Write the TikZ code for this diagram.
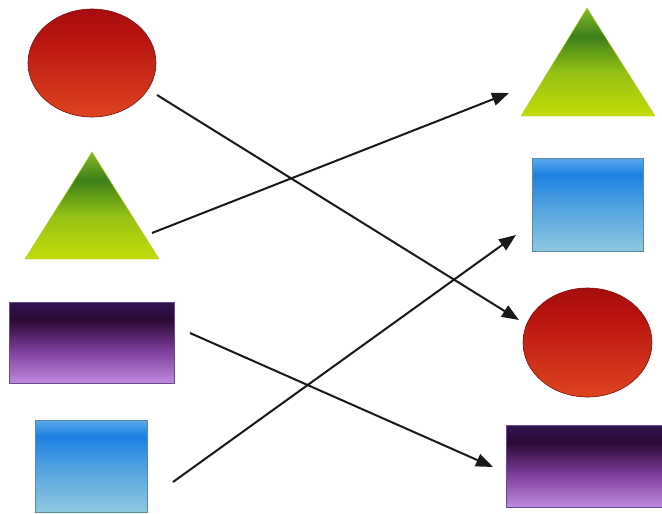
\documentclass[tikz,border=0pt]{standalone}
\usetikzlibrary{arrows.meta,shapes.geometric}
\definecolor{redT}{HTML}{A50D0D}
\definecolor{redM}{HTML}{B81410}
\definecolor{redB}{HTML}{DE4420}
\definecolor{redE}{HTML}{7E1010}
\definecolor{grA}{HTML}{82BC26}
\definecolor{grD}{HTML}{3C801A}
\definecolor{grM}{HTML}{96C214}
\definecolor{grB}{HTML}{C2DC08}
\definecolor{grE}{HTML}{B2CC10}
\definecolor{puT}{HTML}{2E1450}
\definecolor{puD}{HTML}{2A0A33}
\definecolor{puM}{HTML}{7C3E9C}
\definecolor{puB}{HTML}{BE8ADE}
\definecolor{puE}{HTML}{6A4A8A}
\definecolor{blT}{HTML}{5AAAEC}
\definecolor{blD}{HTML}{1E80E2}
\definecolor{blM}{HTML}{4EA0E0}
\definecolor{blB}{HTML}{8EC8E0}
\definecolor{blE}{HTML}{5A8AA0}
\pgfdeclareverticalshading{redsh}{100bp}{color(0bp)=(redB); color(25bp)=(redB); color(62bp)=(redM); color(75bp)=(redT); color(100bp)=(redT)}
\pgfdeclareverticalshading{greensh}{100bp}{color(0bp)=(grB); color(25bp)=(grB); color(45bp)=(grM); color(62bp)=(grD); color(75bp)=(grA); color(100bp)=(grA)}
\pgfdeclareverticalshading{purpsh}{100bp}{color(0bp)=(puB); color(25bp)=(puB); color(45bp)=(puM); color(64bp)=(puD); color(75bp)=(puT); color(100bp)=(puT)}
\pgfdeclareverticalshading{bluesh}{100bp}{color(0bp)=(blB); color(25bp)=(blB); color(50bp)=(blM); color(66bp)=(blD); color(75bp)=(blT); color(100bp)=(blT)}
\tikzset{
  redell/.style={ellipse, shading=redsh, draw=redE, line width=0.6pt, inner sep=0pt},
  greentri/.style={shading=greensh, draw=grE, line width=0.4pt},
  purpbox/.style={rectangle, shading=purpsh, draw=puE, line width=0.6pt, inner sep=0pt},
  bluebox/.style={rectangle, shading=bluesh, draw=blE, line width=0.6pt, inner sep=0pt},
  arr/.style={line width=2pt, black!90, -{Triangle[length=17pt,width=13pt]}}
}
\begin{document}
\begin{tikzpicture}[x=1pt,y=1pt]
\useasboundingbox (0,0) rectangle (662,-514);
\fill[white] (0,0) rectangle (662,-514);
% left column
\node[redell, minimum width=128pt, minimum height=108pt] (Lred) at (92,-63) {};
\coordinate (LtA) at (92,-152);
\coordinate (LtL) at (25,-259);
\coordinate (LtR) at (159,-259);
\path[greentri] (LtA) -- (LtR) -- (LtL) -- cycle;
\node[purpbox, minimum width=165pt, minimum height=81pt] (Lpurp) at (91.5,-342.5) {};
\node[bluebox, minimum width=112pt, minimum height=92pt] (Lblue) at (91,-466) {};
% right column
\coordinate (RtA) at (587,-8);
\coordinate (RtL) at (521,-116);
\coordinate (RtR) at (655,-116);
\path[greentri] (RtA) -- (RtR) -- (RtL) -- cycle;
\node[bluebox, minimum width=111pt, minimum height=93pt] (Rblue) at (587.5,-204.5) {};
\node[redell, minimum width=129pt, minimum height=109pt] (Rred) at (587.5,-342.5) {};
\node[purpbox, minimum width=158pt, minimum height=82pt] (Rpurp) at (585,-466) {};
% arrow ends
\coordinate (a1s) at (157,-95);
\coordinate (a1e) at (519,-320);
\coordinate (a2s) at (152,-233);
\coordinate (a2e) at (509,-93);
\coordinate (a3s) at (190,-333);
\coordinate (a3e) at (493,-467);
\coordinate (a4s) at (173,-482);
\coordinate (a4e) at (516,-235);
\draw[arr] (a1s) -- (a1e);
\draw[arr] (a2s) -- (a2e);
\draw[arr] (a3s) -- (a3e);
\draw[arr] (a4s) -- (a4e);
\end{tikzpicture}
\end{document}
